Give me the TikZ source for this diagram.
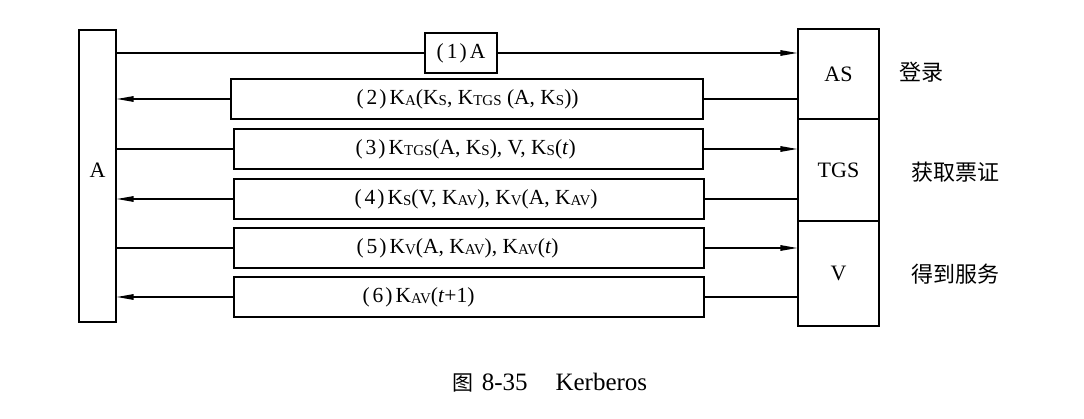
\documentclass[tikz,border=0pt]{standalone}
\usepackage{fontspec}
\setmainfont{Liberation Serif}
\newfontfamily\cjk{Noto Sans CJK SC}
\usetikzlibrary{arrows.meta}
\newcommand{\ksb}[1]{\raisebox{-0.15ex}{\fontsize{15}{15}\selectfont #1}}
\newcommand{\pn}[1]{(\kern3pt#1\kern2pt)\kern3pt}
\begin{document}
\begin{tikzpicture}[x=1pt,y=-1pt,
  box/.style={draw, line width=1.3pt, inner sep=0pt},
  msgbox/.style={box, minimum width=470, minimum height=40},
  conn/.style={line width=1.4pt},
  arr/.style={conn, -{Triangle[length=17pt,width=5.5pt]}},
  txt/.style={font=\fontsize{21.5}{23}\selectfont, inner sep=0pt},
  lbl/.style={font=\cjk\fontsize{22}{24}\selectfont, inner sep=0pt}]
\useasboundingbox (0,0) rectangle (1084,419);
\fill[white] (0,0) rectangle (1084,419);
% entity boxes
\node[box, minimum width=37, minimum height=292] (A) at (97.5,176) {};
\node[txt, font=\fontsize{22}{24}\selectfont] (Alabel) at (97.5,170) {A};
\node[box, minimum width=81, minimum height=90, txt, font=\fontsize{22}{24}\selectfont] (AS) at (838.5,74) {AS};
\node[box, minimum width=81, minimum height=102, txt, font=\fontsize{22}{24}\selectfont] (TGS) at (838.5,170) {TGS};
\node[box, minimum width=81, minimum height=105, txt, font=\fontsize{22}{24}\selectfont] (V) at (838.5,273.5) {V};
% stage labels
\node[lbl] (l1) at (921,72) {登录};
\node[lbl] (l2) at (955,172) {获取票证};
\node[lbl] (l3) at (955,274) {得到服务};
% message boxes
\node[box, minimum width=72, minimum height=40, txt] (m1) at (461,53) {\pn{1}A};
\node[msgbox, minimum width=472] (m2) at (467,99) {};
\node[msgbox, minimum width=469] (m3) at (468.5,149) {};
\node[msgbox] (m4) at (469,199) {};
\node[msgbox] (m5) at (469,248) {};
\node[msgbox] (m6) at (469,297) {};
% message texts
\node[txt, anchor=west] (t2) at ([xshift=126]m2.west) {\pn{2}K\ksb{A}(K\ksb{S}, K\ksb{TGS} (A, K\ksb{S}))};
\node[txt, anchor=west] (t3) at ([xshift=122]m3.west) {\pn{3}K\ksb{TGS}(A, K\ksb{S}), V, K\ksb{S}(\textit{t})};
\node[txt, anchor=west] (t4) at ([xshift=121]m4.west) {\pn{4}K\ksb{S}(V, K\ksb{AV}), K\ksb{V}(A, K\ksb{AV})};
\node[txt, anchor=west] (t5) at ([xshift=123]m5.west) {\pn{5}K\ksb{V}(A, K\ksb{AV}), K\ksb{AV}(\textit{t})};
\node[txt, anchor=west] (t6) at ([xshift=129]m6.west) {\pn{6}K\ksb{AV}(\textit{t}+1)};
% connectors
\draw[conn] (A.east |- m1.west) -- (m1.west);
\draw[arr] (m1.east) -- (AS.west |- m1.east);
\draw[conn] (AS.west |- m2.east) -- (m2.east);
\draw[arr] (m2.west) -- (A.east |- m2.west);
\draw[conn] (A.east |- m3.west) -- (m3.west);
\draw[arr] (m3.east) -- (TGS.west |- m3.east);
\draw[conn] (TGS.west |- m4.east) -- (m4.east);
\draw[arr] (m4.west) -- (A.east |- m4.west);
\draw[conn] (A.east |- m5.west) -- (m5.west);
\draw[arr] (m5.east) -- (V.west |- m5.east);
\draw[conn] (V.west |- m6.east) -- (m6.east);
\draw[arr] (m6.west) -- (A.east |- m6.west);
% caption
\node[inner sep=0pt, font=\fontsize{25}{27}\selectfont] (cap) at (550,383) {{\cjk\fontsize{21}{24}\selectfont 图}\kern8pt 8-35\kern28pt Kerberos};
\end{tikzpicture}
\end{document}
